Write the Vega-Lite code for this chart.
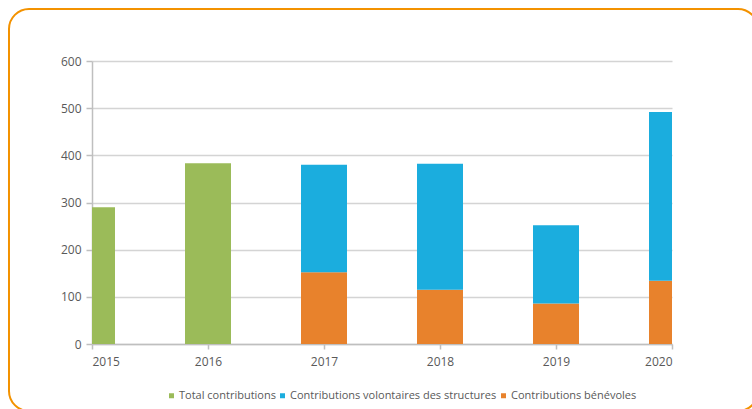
{
  "$schema": "https://vega.github.io/schema/vega-lite/v6.json",
  "width": 749,
  "height": 402,
  "autosize": {"type": "none"},
  "padding": {"left": 9, "top": 9, "right": -6, "bottom": -2},
  "background": "white",
  "config": {
    "view": {"stroke": "#F39200", "strokeWidth": 2, "cornerRadius": 20, "fill": "white"},
    "axis": {
      "labelFont": "Open Sans",
      "labelFontSize": 12,
      "labelColor": "#595959",
      "domainColor": "#BFBFBF",
      "domainWidth": 1.5,
      "tickColor": "#BFBFBF",
      "tickWidth": 1.5,
      "gridColor": "#D4D4D4",
      "gridWidth": 1.5,
      "title": null
    },
    "legend": {
      "labelFont": "Open Sans",
      "labelFontSize": 11,
      "labelColor": "#595959",
      "labelLimit": 400,
      "symbolType": "square",
      "symbolSize": 25,
      "symbolStrokeWidth": 0,
      "labelOffset": 2,
      "columnPadding": 1,
      "padding": 0
    }
  },
  "data": {
    "values": [
      {"year": 2015, "serie": "Total contributions", "value": 290},
      {"year": 2016, "serie": "Total contributions", "value": 383},
      {"year": 2017, "serie": "Contributions bénévoles", "value": 152},
      {"year": 2017, "serie": "Contributions volontaires des structures", "value": 228},
      {"year": 2018, "serie": "Contributions bénévoles", "value": 115},
      {"year": 2018, "serie": "Contributions volontaires des structures", "value": 267},
      {"year": 2019, "serie": "Contributions bénévoles", "value": 86},
      {"year": 2019, "serie": "Contributions volontaires des structures", "value": 166},
      {"year": 2020, "serie": "Contributions bénévoles", "value": 134},
      {"year": 2020, "serie": "Contributions volontaires des structures", "value": 358}
    ]
  },
  "encoding": {
    "x": {
      "field": "year",
      "type": "quantitative",
      "scale": {"domain": [2015, 2020], "range": [83, 663], "nice": false, "zero": false, "padding": 0},
      "axis": {
        "orient": "bottom",
        "offset": -67,
        "values": [2015, 2016, 2017, 2018, 2019, 2020],
        "format": "d",
        "grid": false,
        "tickSize": 5,
        "labelPadding": 7
      }
    },
    "y": {
      "field": "value",
      "type": "quantitative",
      "stack": "zero",
      "scale": {"domain": [0, 600], "range": [335, 52], "nice": false, "padding": 0},
      "axis": {
        "orient": "left",
        "offset": -83,
        "values": [0, 100, 200, 300, 400, 500, 600],
        "format": "d",
        "grid": true,
        "tickSize": 6,
        "labelPadding": 5
      }
    },
    "color": {
      "field": "serie",
      "type": "nominal",
      "scale": {
        "domain": ["Total contributions", "Contributions volontaires des structures", "Contributions bénévoles"],
        "range": ["#9BBB59", "#1BADDE", "#E8822C"]
      },
      "legend": {
        "orient": "none",
        "direction": "horizontal",
        "legendX": 157,
        "legendY": 381,
        "title": null
      }
    },
    "order": {"field": "serie", "sort": "ascending"}
  },
  "layer": [
    {
      "transform": [{"filter": {"field": "year", "equal": 2015}}],
      "mark": {"type": "bar", "orient": "vertical", "width": 23, "xOffset": 11.5}
    },
    {
      "transform": [{"filter": {"field": "year", "range": [2016, 2019]}}],
      "mark": {"type": "bar", "orient": "vertical", "width": 46}
    },
    {
      "transform": [{"filter": {"field": "year", "equal": 2020}}],
      "mark": {"type": "bar", "orient": "vertical", "width": 23, "xOffset": -11.5}
    }
  ]
}
